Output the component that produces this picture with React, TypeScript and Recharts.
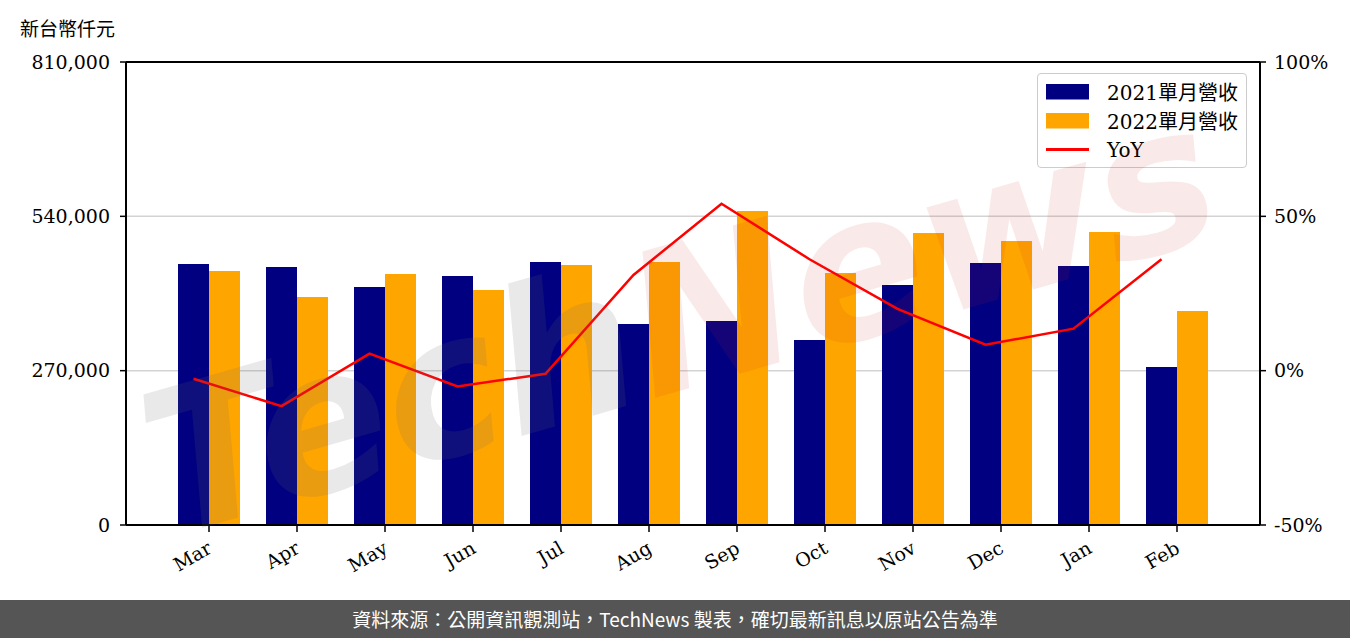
import React from 'react';
import { ComposedChart, Bar, Line, XAxis, YAxis, CartesianGrid, Legend, ReferenceLine } from 'recharts';

const months = ['Mar', 'Apr', 'May', 'Jun', 'Jul', 'Aug', 'Sep', 'Oct', 'Nov', 'Dec', 'Jan', 'Feb'];
const rev2021 = [456600, 451400, 416400, 435600, 460100, 351600, 356900, 323700, 419900, 458400, 453100, 276400];
const rev2022 = [444400, 398900, 439100, 411100, 454900, 460100, 549300, 440900, 510800, 496800, 512600, 374400];
const yoy = [-2.6, -11.5, 5.5, -5.1, -1.0, 31.0, 54.1, 36.1, 20.0, 8.4, 13.6, 36.1];
const leftTicks = [0, 270000, 540000, 810000];
const rightTicks = [-50, 0, 50, 100];

const data = months.map((m, i) => ({ month: m, r2021: rev2021[i], r2022: rev2022[i], yoy: yoy[i] }));

const serif = '"DejaVu Serif", "Noto Sans CJK TC", serif';
const cjk = '"Noto Sans CJK TC", sans-serif';

const MonthTick = (props: any) => {
    const { x, y, payload } = props;
    return (
        <g transform={`translate(${x + 4},${y + 18})`}>
            <text textAnchor="end" transform="rotate(-30)" fontFamily={serif} fontSize={19} fill="#000">
                {payload.value}
            </text>
        </g>
    );
};

const renderLegend = (props: any) => {
    const { payload } = props;
    return (
        <div style={{
            width: 210, height: 95, boxSizing: 'border-box', padding: '3px 0',
            border: '1.5px solid #cccccc', borderRadius: 4, background: 'rgba(255,255,255,0.8)',
        }}>
            {payload.map((e: any) => (
                <div key={e.value} style={{ display: 'flex', alignItems: 'center', height: 29 }}>
                    <svg width={69} height={29} style={{ flex: 'none' }}>
                        {e.type === 'line'
                            ? <line x1={8} x2={51} y1={14.5} y2={14.5} stroke={e.color} strokeWidth={3} />
                            : <rect x={8} y={7} width={43} height={15.5} fill={e.color} />}
                    </svg>
                    <span style={{ fontFamily: serif, fontSize: 20, color: '#000', whiteSpace: 'nowrap' }}>{e.value}</span>
                </div>
            ))}
        </div>
    );
};

export default function App() {
    return (
        <div style={{ position: 'absolute', left: 0, top: 0, width: 1350, height: 638, background: '#fff', overflow: 'hidden' }}>
            <div style={{ position: 'absolute', left: 20, top: 14, fontFamily: cjk, fontSize: 19, color: '#000' }}>新台幣仟元</div>
            <ComposedChart width={1350} height={600} data={data} margin={{ top: 62, right: 0, bottom: 0, left: 0 }} barGap={0}>
                <CartesianGrid vertical={false} yAxisId="left" xAxisId="bar" stroke="#d3d3d3" strokeWidth={1.5} />
                <XAxis
                    xAxisId="bar" dataKey="month" interval={0} height={75}
                    padding={{ left: 39, right: 39 }}
                    tick={<MonthTick />} tickSize={7}
                    axisLine={{ stroke: '#000', strokeWidth: 2 }} tickLine={{ stroke: '#000', strokeWidth: 1.5 }}
                />
                <XAxis xAxisId="line" dataKey="month" hide padding={{ left: 23.5, right: 54.5 }} />
                <YAxis
                    yAxisId="left" width={126} domain={[0, 810000]} ticks={leftTicks} interval={0}
                    tickFormatter={(v) => v.toLocaleString('en-US')}
                    tick={{ fontFamily: serif, fontSize: 19, fill: '#000' }} tickSize={6} tickMargin={10}
                    axisLine={{ stroke: '#000', strokeWidth: 2 }} tickLine={{ stroke: '#000', strokeWidth: 1.5 }}
                />
                <YAxis
                    yAxisId="right" orientation="right" width={90} domain={[-50, 100]} ticks={rightTicks} interval={0}
                    tickFormatter={(v) => `${v}%`}
                    tick={{ fontFamily: serif, fontSize: 19, fill: '#000' }} tickSize={6} tickMargin={8}
                    axisLine={{ stroke: '#000', strokeWidth: 2 }} tickLine={{ stroke: '#000', strokeWidth: 1.5 }}
                />
                <ReferenceLine yAxisId="left" xAxisId="bar" y={810000} stroke="#000" strokeWidth={2} />
                <Bar xAxisId="bar" yAxisId="left" dataKey="r2021" name="2021單月營收" fill="#000080" barSize={31} isAnimationActive={false} />
                <Bar xAxisId="bar" yAxisId="left" dataKey="r2022" name="2022單月營收" fill="#ffa500" barSize={31} isAnimationActive={false} />
                <Line xAxisId="line" yAxisId="right" dataKey="yoy" name="YoY" type="linear" stroke="#ff0000" strokeWidth={2.5} dot={false} legendType="line" isAnimationActive={false} />
                <Legend
                    content={renderLegend} layout="horizontal" verticalAlign="middle" align="center"
                    wrapperStyle={{ top: 73, left: 1037, width: 210, height: 95 }}
                />
            </ComposedChart>
            {/* watermark, drawn over the plot like the original */}
            <div style={{
                position: 'absolute', left: 680, top: 320, transform: 'translate(-50%, -50%) rotate(-16deg)',
                fontFamily: '"DejaVu Sans", sans-serif', fontStyle: 'italic', fontWeight: 'bold', fontSize: 198, lineHeight: 1,
                whiteSpace: 'nowrap', pointerEvents: 'none',
            }}>
                <span style={{ color: 'rgba(110,110,110,0.15)' }}>Tech</span>
                <span style={{ color: 'rgba(210,40,40,0.1)' }}>News</span>
            </div>
            <div style={{
                position: 'absolute', left: 0, top: 600, width: 1350, height: 38, background: '#555555',
                color: '#fff', fontFamily: cjk, fontSize: 19, lineHeight: '38px', textAlign: 'center',
            }}>
                資料來源：公開資訊觀測站，TechNews 製表，確切最新訊息以原站公告為準
            </div>
        </div>
    );
}
